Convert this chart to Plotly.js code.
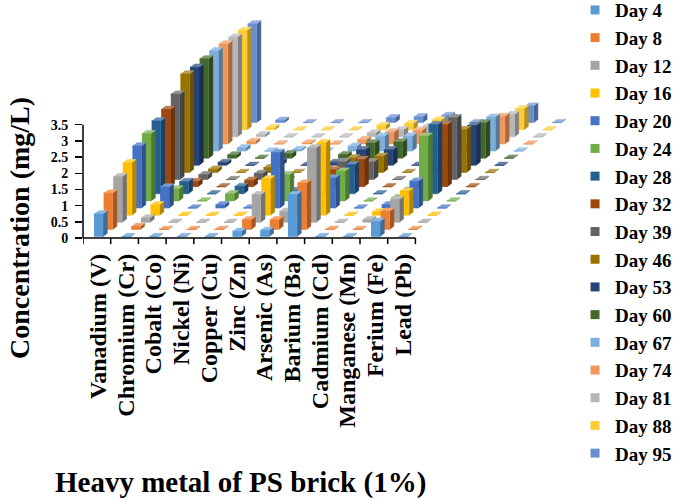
<!DOCTYPE html>
<html>
<head>
<meta charset="utf-8">
<script src="https://cdn.plot.ly/plotly-3.0.1.min.js"></script>
<style>html,body{margin:0;padding:0;background:#fff;overflow:hidden;}#chart{width:685px;height:499px;}</style>
</head>
<body>
<div id="chart"></div>
<script>
// ---------- DATA ----------
const categories = ["Vanadium (V)", "Chromium (Cr)", "Cobalt (Co)", "Nickel (Ni)", "Copper (Cu)", "Zinc (Zn)",
                    "Arsenic (As)", "Barium (Ba)", "Cadmium (Cd)", "Manganese (Mn)", "Ferium (Fe)", "Lead (Pb)"];
const days = ["Day 4", "Day 8", "Day 12", "Day 16", "Day 20", "Day 24", "Day 28", "Day 32", "Day 39",
              "Day 46", "Day 53", "Day 60", "Day 67", "Day 74", "Day 81", "Day 88", "Day 95"];
// concentration (mg/L) per metal, one value per day (Day 4 ... Day 95)
const vanadium  = [0.70, 1.12, 1.41, 1.62, 1.92, 2.08, 2.25, 2.39, 2.64, 3.04, 3.03, 3.07, 3.10, 3.09, 3.08, 3.07, 3.05];
const chromium  = [0.00, 0.09, 0.13, 0.32, 0.65, 0.37, 0.38, 0.16, 0.15, 0.10, 0.09, 0.10, 0.10, 0.08, 0.07, 0.06, 0.07];
const cobalt    = [0.00, 0.00, 0.00, 0.00, 0.00, 0.00, 0.00, 0.00, 0.00, 0.00, 0.00, 0.00, 0.00, 0.00, 0.00, 0.00, 0.00];
const nickel    = [0.00, 0.00, 0.00, 0.00, 0.10, 0.22, 0.23, 0.20, 0.19, 0.15, 0.12, 0.14, 0.05, 0.03, 0.00, 0.00, 0.00];
const copper    = [0.00, 0.00, 0.00, 0.00, 0.00, 0.00, 0.00, 0.00, 0.00, 0.00, 0.00, 0.00, 0.00, 0.00, 0.00, 0.00, 0.00];
const zinc      = [0.16, 0.30, 0.85, 1.12, 1.72, 0.81, 0.10, 0.10, 0.10, 0.10, 0.09, 0.11, 0.15, 0.13, 0.12, 0.13, 0.15];
const arsenic   = [0.19, 0.30, 0.34, 0.40, 0.45, 0.50, 0.50, 0.52, 0.55, 0.45, 0.48, 0.47, 0.46, 0.37, 0.22, 0.19, 0.18];
const barium    = [1.30, 1.43, 2.30, 2.24, 0.93, 0.92, 0.90, 0.84, 0.54, 0.50, 0.48, 0.50, 0.46, 0.41, 0.32, 0.30, 0.22];
const cadmium   = [0.00, 0.00, 0.00, 0.00, 0.00, 0.00, 0.00, 0.00, 0.00, 0.00, 0.00, 0.00, 0.00, 0.00, 0.00, 0.00, 0.00];
const manganese = [0.00, 0.00, 0.08, 0.10, 0.10, 0.10, 0.10, 0.10, 0.10, 0.10, 0.10, 0.10, 0.10, 0.10, 0.10, 0.10, 0.10];
const ferium    = [0.47, 0.56, 0.70, 0.74, 0.83, 2.00, 2.14, 1.92, 1.91, 1.33, 1.23, 1.09, 1.05, 0.85, 0.69, 0.65, 0.51];
const lead      = [0.00, 0.00, 0.00, 0.00, 0.00, 0.00, 0.00, 0.00, 0.00, 0.00, 0.00, 0.00, 0.00, 0.00, 0.00, 0.00, 0.00];
const yTickVals = [0, 0.5, 1, 1.5, 2, 2.5, 3, 3.5];
const yTickText = ["0", "0.5", "1", "1.5", "2", "2.5", "3", "3.5"];
const colors = ["#5B9BD5", "#ED7D31", "#A5A5A5", "#FFC000", "#4472C4", "#70AD47", "#255E91", "#9E480E", "#636363",
                "#997300", "#264478", "#43682B", "#7CAFDD", "#F1975A", "#B7B7B7", "#FFCD33", "#698ED0"];

const metals = [vanadium, chromium, cobalt, nickel, copper, zinc, arsenic, barium, cadmium, manganese, ferium, lead];

// ---------- oblique 3-D projection (in axis units) ----------
const PX_X = 27.7, PX_Y = 32.36;             // pixels per category / per mg/L
const X_OFF = 11.0 / PX_X;                   // bar offset inside its category
const W = 9.0 / PX_X;                        // front face width
const DX = 9.6 / PX_X, DY = 7.12 / PX_Y;     // shift per depth row (series)
const Y_OFF = 1.5 / PX_Y;                    // gap to front wall
const BX = 4.3 / PX_X, BY = 3.2 / PX_Y;      // bar depth

function shade(hex, f) {
  const n = parseInt(hex.slice(1), 16);
  let r = (n >> 16) & 255, g = (n >> 8) & 255, b = n & 255;
  if (f >= 0) { r += (255 - r) * f; g += (255 - g) * f; b += (255 - b) * f; }
  else { r *= (1 + f); g *= (1 + f); b *= (1 + f); }
  return "rgb(" + Math.round(r) + "," + Math.round(g) + "," + Math.round(b) + ")";
}

const traces = [];
for (let s = days.length - 1; s >= 0; s--) {
  const side = {x: [], y: []}, top = {x: [], y: []}, front = {x: [], y: []};
  metals.forEach((vals, i) => {
    const v = vals[s];
    const x0 = i + X_OFF + s * DX, x1 = x0 + W;
    const y0 = Y_OFF + s * DY, y1 = y0 + v;
    front.x.push(x0, x1, x1, x0, null); front.y.push(y0, y0, y1, y1, null);
    top.x.push(x0, x1, x1 + BX, x0 + BX, null); top.y.push(y1, y1, y1 + BY, y1 + BY, null);
    side.x.push(x1, x1 + BX, x1 + BX, x1, null); side.y.push(y0, y0 + BY, y1 + BY, y1, null);
  });
  const faces = [[side, shade(colors[s], -0.3)], [top, shade(colors[s], 0.3)], [front, colors[s]]];
  faces.forEach(([p, c]) => traces.push({
    type: "scatter", mode: "lines", x: p.x, y: p.y, fill: "toself", fillcolor: c,
    line: {color: c, width: 0.6}, hoverinfo: "skip", showlegend: false
  }));
}

// x axis line + boundary tick marks
const axX = [], axY = [];
axX.push(0, categories.length, null); axY.push(0, 0, null);
for (let k = 0; k <= categories.length; k++) { axX.push(k, k, null); axY.push(0, -0.19, null); }
traces.push({type: "scatter", mode: "lines", x: axX, y: axY, line: {color: "#000", width: 1.5},
             hoverinfo: "skip", showlegend: false});

// legend entries
days.forEach((d, s) => traces.push({
  type: "scatter", mode: "markers", x: [null], y: [null], name: d,
  marker: {symbol: "square", size: 9, color: colors[s]}
}));

const font = {family: "Liberation Serif, Times New Roman, serif", color: "#000", weight: "bold"};
const layout = {
  width: 685, height: 499,
  margin: {l: 83, r: 105, t: 5, b: 254, autoexpand: false},
  paper_bgcolor: "#fff", plot_bgcolor: "#fff",
  showlegend: true,
  xaxis: {
    range: [0, 497 / PX_X], showgrid: false, zeroline: false, showline: false,
    tickmode: "array", tickvals: categories.map((c, i) => i + 0.55), ticktext: categories,
    tickangle: -90, ticks: "", ticklabelstandoff: 3,
    tickfont: Object.assign({}, font, {size: 24}), fixedrange: true
  },
  yaxis: {
    range: [-7 / PX_Y, 233 / PX_Y], showgrid: false, zeroline: false, showline: false,
    tickmode: "array", tickvals: yTickVals, ticktext: yTickText,
    ticks: "outside", ticklen: 7, tickwidth: 1.5, tickcolor: "#000", ticklabelstandoff: 4,
    tickfont: Object.assign({}, font, {size: 14}), fixedrange: true
  },
  shapes: [{type: "line", xref: "paper", x0: 0, x1: 0, yref: "y", y0: 0, y1: yTickVals[yTickVals.length - 1],
            line: {color: "#000", width: 1.5}}],
  legend: {x: 0.99, xanchor: "left", y: 1.058, yanchor: "top", bgcolor: "rgba(0,0,0,0)", maxheight: 2000,
           font: Object.assign({}, font, {size: 19})},
  annotations: [
    {text: "Heavy metal of PS brick (1%)", xref: "paper", yref: "paper", x: 0.316, y: -0.9875,
     xanchor: "center", yanchor: "middle", showarrow: false, font: Object.assign({}, font, {size: 29})},
    {text: "Concentration (mg/L)", xref: "paper", yref: "paper", x: -0.1288, y: 0.0708, textangle: -90,
     xanchor: "center", yanchor: "middle", showarrow: false, font: Object.assign({}, font, {size: 28})}
  ]
};

Plotly.newPlot("chart", traces, layout, {displayModeBar: false, staticPlot: true});
</script>
</body>
</html>
